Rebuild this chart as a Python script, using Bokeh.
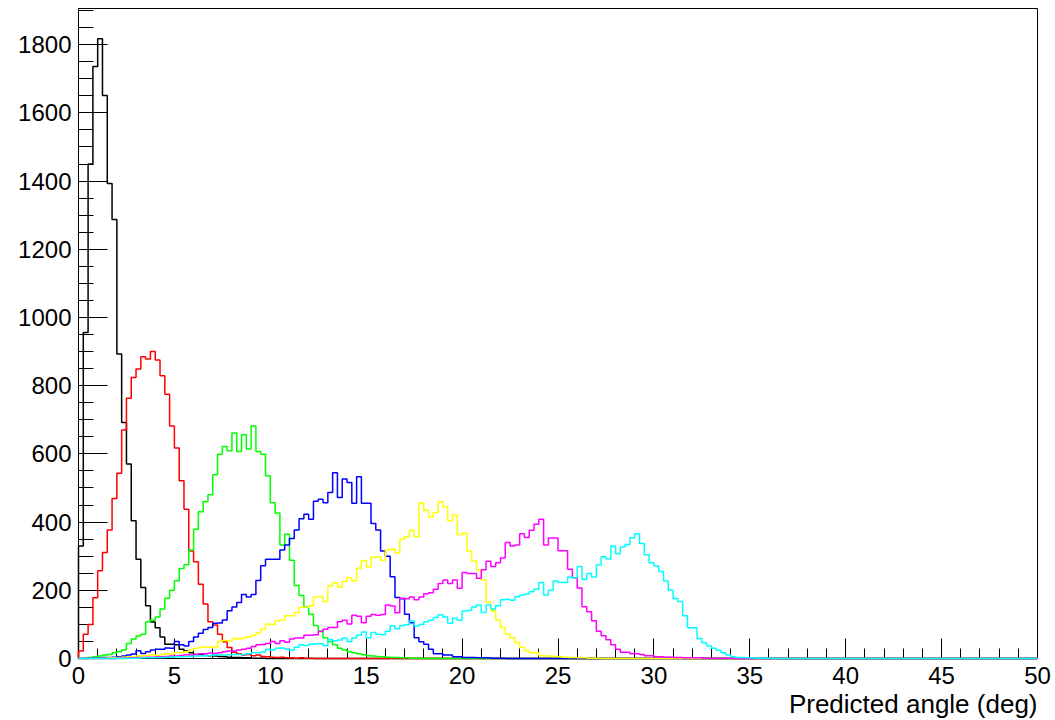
import numpy as np
from bokeh.plotting import figure
from bokeh.models import Range1d, Title, SingleIntervalTicker
from bokeh.embed import file_html
from bokeh.resources import INLINE

# Histogram binning: 200 bins of 0.25 deg between 0 and 50 deg
NBINS = 200
XMIN, XMAX = 0.0, 50.0
YMAX = 1906

# Bin contents, listed from the first bin; trailing empty bins are omitted
black = [330, 956, 1450, 1736, 1817, 1651, 1393, 1287, 893, 692,
         570, 404, 291, 208, 155, 107, 90, 63, 42, 42,
         40, 27, 22, 17, 12, 12, 9, 8, 7, 6,
         5, 4, 3, 3, 2, 2, 1, 1, 1]

red = [22, 71, 100, 178, 257, 311, 377, 469, 543, 670,
       763, 824, 849, 885, 878, 900, 875, 829, 775, 682,
       617, 521, 438, 315, 284, 218, 160, 108, 98, 71,
       49, 32, 18, 14, 10, 12, 8, 10, 6, 5,
       4, 3, 4, 2, 2, 1, 2, 1, 1]

green = [1, 2, 3, 5, 7, 10, 12, 17, 20, 26,
         44, 57, 66, 71, 108, 112, 122, 145, 177, 200,
         228, 264, 275, 318, 379, 430, 460, 480, 539, 599,
         622, 609, 661, 607, 656, 614, 682, 607, 599, 536,
         457, 427, 333, 364, 288, 214, 185, 152, 130, 97,
         81, 61, 50, 40, 30, 25, 20, 17, 14, 11,
         8, 7, 6, 5, 4, 3, 3, 2, 2, 1,
         1, 1]

blue = [0, 0, 1, 1, 2, 3, 3, 4, 5, 7,
        10, 13, 23, 15, 20, 25, 27, 27, 31, 30,
        50, 40, 37, 50, 63, 74, 85, 91, 103, 104,
        113, 140, 151, 164, 188, 180, 188, 229, 272, 291,
        291, 291, 318, 333, 352, 377, 410, 423, 408, 461,
        467, 457, 487, 545, 472, 526, 516, 455, 533, 455,
        455, 396, 377, 315, 300, 240, 179, 175, 130, 105,
        61, 49, 42, 27, 14, 14, 10, 10, 5, 5,
        3, 3, 3, 2, 2, 2, 1, 1, 1]

yellow = [0, 0, 0, 0, 1, 1, 2, 2, 3, 4,
          5, 5, 7, 8, 9, 11, 9, 12, 14, 13,
          18, 17, 20, 25, 29, 32, 34, 34, 33, 50,
          53, 51, 59, 57, 60, 63, 68, 75, 86, 101,
          100, 110, 112, 125, 125, 135, 150, 150, 155, 180,
          182, 167, 213, 222, 209, 226, 237, 228, 265, 287,
          269, 296, 298, 287, 318, 321, 309, 350, 357, 376,
          357, 457, 435, 415, 428, 460, 445, 404, 421, 363,
          367, 315, 286, 259, 230, 166, 140, 113, 91, 71,
          61, 47, 33, 23, 17, 17, 8, 7, 7, 6,
          5, 4, 3, 3, 2, 2, 1, 1, 1]

magenta = [0, 0, 0, 0, 0, 0, 0, 0, 1, 1,
           2, 2, 3, 3, 4, 4, 5, 5, 6, 7,
           7, 9, 11, 10, 12, 14, 14, 16, 15, 17,
           20, 22, 22, 25, 27, 30, 35, 40, 41, 44,
           50, 44, 52, 48, 57, 60, 60, 68, 68, 70,
           79, 86, 91, 91, 108, 112, 101, 127, 124, 105,
           124, 129, 127, 129, 157, 154, 134, 177, 175, 180,
           172, 180, 190, 193, 203, 220, 230, 220, 230, 206,
           252, 249, 249, 235, 260, 285, 270, 281, 295, 340,
           330, 333, 366, 355, 376, 394, 408, 333, 353, 353,
           316, 316, 262, 237, 207, 152, 137, 111, 80, 67,
           55, 40, 27, 18, 18, 14, 14, 12, 8, 8,
           5, 5, 4, 4, 3, 3, 2, 2, 2, 2,
           1, 1, 1, 1, 1, 1, 1]

cyan = [0, 0, 0, 0, 0, 0, 0, 0, 0, 0,
        1, 1, 1, 2, 2, 2, 3, 3, 4, 4,
        5, 5, 6, 6, 7, 7, 8, 9, 10, 10,
        10, 11, 12, 12, 12, 14, 17, 17, 19, 27,
        25, 30, 31, 28, 24, 33, 40, 38, 42, 43,
        43, 38, 56, 52, 54, 60, 50, 60, 69, 78,
        61, 76, 71, 70, 80, 96, 87, 97, 99, 110,
        95, 100, 108, 112, 120, 128, 122, 103, 118, 112,
        139, 141, 151, 157, 135, 157, 145, 155, 172, 174,
        171, 181, 186, 189, 196, 203, 223, 186, 200, 227,
        223, 223, 239, 236, 270, 232, 249, 239, 274, 298,
        292, 330, 307, 327, 334, 354, 366, 337, 304, 281,
        271, 255, 227, 200, 176, 167, 125, 90, 90, 59,
        46, 37, 30, 24, 17, 10, 5, 3, 3, 2,
        2, 1, 1, 1, 1]

series = [
    (black, "#000000"),
    (red, "#ff0000"),
    (green, "#00ff00"),
    (blue, "#0000ff"),
    (yellow, "#ffff00"),
    (magenta, "#ff00ff"),
    (cyan, "#00ffff"),
]

FONT = "Liberation Sans"

p = figure(width=1055, height=720,
           x_range=Range1d(XMIN, XMAX), y_range=Range1d(0, YMAX),
           output_backend="svg", toolbar_location=None,
           min_border_left=78, min_border_right=18,
           min_border_top=8, min_border_bottom=62)

p.background_fill_color = "white"
p.border_fill_color = "white"
p.outline_line_color = "black"
p.outline_line_width = 1
p.xgrid.visible = False
p.ygrid.visible = False

edges = np.linspace(XMIN, XMAX, NBINS + 1)
for vals, color in series:
    counts = np.zeros(NBINS)
    counts[:len(vals)] = vals
    # outline of the histogram: up from the baseline, across each bin, back down at the end
    xs = np.concatenate([[XMIN], edges[:-1], [XMAX]])
    ys = np.concatenate([[0.0], counts, [0.0]])
    r = p.step(xs, ys, mode="after", line_color=color, line_width=1.5)
    r.level = "overlay"

# x axis: major every 5 deg, minor every 1 deg, ticks pointing inward
xa = p.xaxis[0]
xa.ticker = SingleIntervalTicker(interval=5, num_minor_ticks=5)
xa.major_tick_in = 20
xa.major_tick_out = 0
xa.minor_tick_in = 10
xa.minor_tick_out = 0
xa.major_label_standoff = 8
xa.major_label_text_font = FONT
xa.major_label_text_font_size = "24px"
xa.major_label_text_color = "black"
xa.axis_line_color = "black"
xa.major_tick_line_color = "black"
xa.minor_tick_line_color = "black"

# y axis: major every 200, minor every 50
ya = p.yaxis[0]
ya.ticker = SingleIntervalTicker(interval=200, num_minor_ticks=4)
ya.major_tick_in = 29
ya.major_tick_out = 0
ya.minor_tick_in = 15
ya.minor_tick_out = 0
ya.major_label_standoff = 7
ya.major_label_text_font = FONT
ya.major_label_text_font_size = "24px"
ya.major_label_text_color = "black"
ya.axis_line_color = "black"
ya.major_tick_line_color = "black"
ya.minor_tick_line_color = "black"

# x-axis title, right-aligned under the end of the axis
xtitle = Title(text="Predicted angle (deg)", align="right",
               text_font=FONT, text_font_size="26px",
               text_font_style="normal", text_color="black",
               standoff=0, offset=0)
p.add_layout(xtitle, "below")

open("out.html", "w").write(file_html(p, INLINE))
